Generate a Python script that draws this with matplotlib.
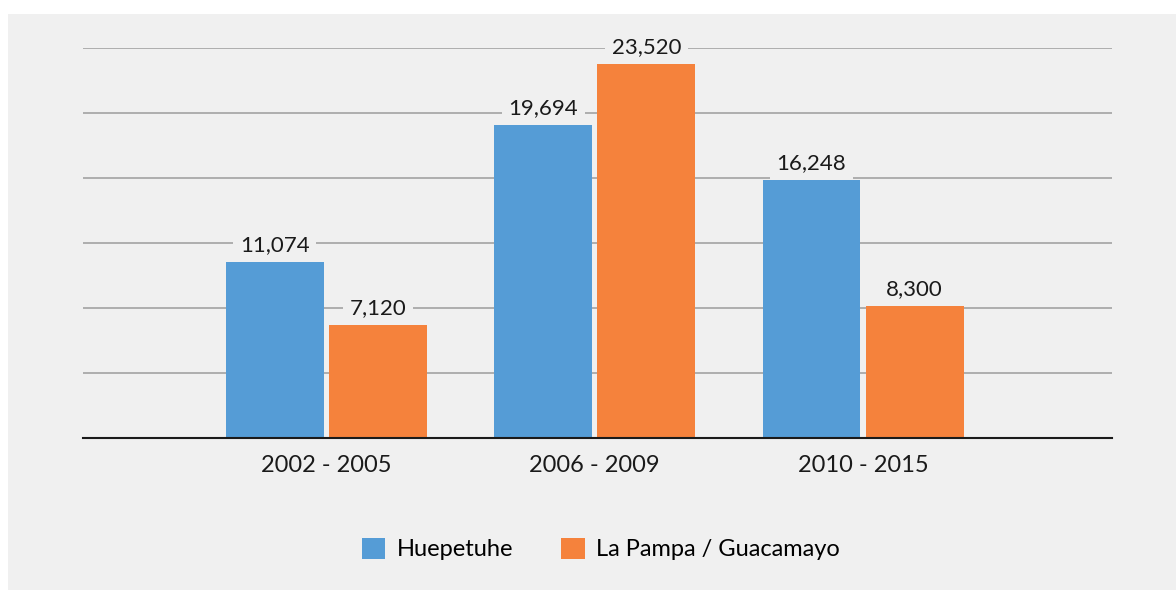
import matplotlib.pyplot as plt
import matplotlib.patches as patches
import numpy as np

plt.rcParams["font.family"] = ["Lato", "DejaVu Sans"]

# data
periods = ['2002 - 2005', '2006 - 2009', '2010 - 2015']
huepetuhe = [11074, 19694, 16248]
la_pampa = [7120, 23520, 8300]
series_names = ['Huepetuhe', 'La Pampa / Guacamayo']

blue = '#559cd6'
orange = '#f5823c'
bg = '#f0f0f0'

fig = plt.figure(figsize=(11.76, 5.9), dpi=100)
fig.patch.set_facecolor(bg)
# white strips at top and left
fig.patches.append(patches.Rectangle((0, (590 - 14) / 590), 1, 14 / 590,
                                     transform=fig.transFigure, facecolor='white',
                                     edgecolor='none'))
fig.patches.append(patches.Rectangle((0, 0), 8 / 1176, 1,
                                     transform=fig.transFigure, facecolor='white',
                                     edgecolor='none'))

ax = fig.add_axes([83 / 1176, (590 - 438) / 590, (1112 - 83) / 1176, 390 / 590])
ax.set_facecolor(bg)

x = np.arange(len(periods))
w = 0.365
off = 0.192
b1 = ax.bar(x - off, huepetuhe, w, color=blue, zorder=3, label=series_names[0])
b2 = ax.bar(x + off, la_pampa, w, color=orange, zorder=3, label=series_names[1])

for bars, vals in [(b1, huepetuhe), (b2, la_pampa)]:
    for r, v in zip(bars, vals):
        ax.annotate(f'{v:,}', (r.get_x() + r.get_width() / 2, v),
                    xytext=(0, 5), textcoords='offset points',
                    ha='center', va='bottom', fontsize=16, color='#1a1a1a',
                    bbox=dict(boxstyle='square,pad=0.3', fc=bg, ec='none'),
                    zorder=4)

step = 4088
ax.set_ylim(0, step * 6)
ax.set_yticks(np.arange(1, 7) * step)
ax.yaxis.grid(True, color='#a8a8a8', linewidth=1.3, zorder=1)
ax.tick_params(axis='y', left=False, labelleft=False)
ax.set_xlim(-0.9076, 2.928)
ax.set_xticks(x)
ax.set_xticklabels(periods, fontsize=17, color='#1a1a1a')
ax.tick_params(axis='x', length=0, pad=12)
for s in ['top', 'right', 'left']:
    ax.spines[s].set_visible(False)
ax.spines['bottom'].set_color('#1a1a1a')
ax.spines['bottom'].set_linewidth(1.5)
ax.spines['bottom'].set_zorder(5)

fig.legend(handles=[b1, b2], labels=series_names, loc='center',
           bbox_to_anchor=(601 / 1176, 1 - 549 / 590), ncol=2, frameon=False,
           fontsize=17, handlelength=1.0, handleheight=1.0, handletextpad=0.5,
           columnspacing=2.0)

fig.savefig('out.png', dpi=100, facecolor=bg)
